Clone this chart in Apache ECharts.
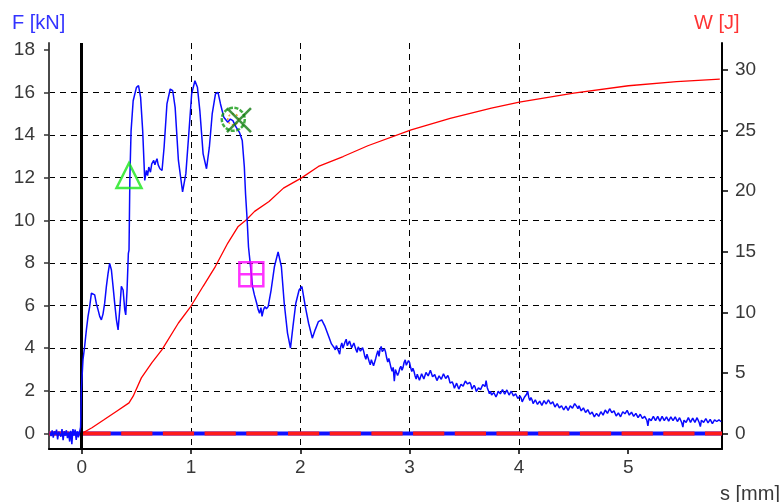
<!DOCTYPE html>
<html><head><meta charset="utf-8">
<script src="https://cdn.jsdelivr.net/npm/echarts@6/dist/echarts.min.js"></script>
<style>html,body{margin:0;padding:0;background:#fff}#c{width:780px;height:502px}</style>
</head><body><div id="c"></div>
<script>
// tick labels
const xTicks=[0,1,2,3,4,5];
const fTicks=[0,2,4,6,8,10,12,14,16,18];
const wTicks=[0,5,10,15,20,25,30];
// axis ranges
const xRange=[-0.299,5.858];
const fRange=[-0.73,18.32];
const wRange=[-1.28,32.23];
// force F [kN] vs s [mm]
const forcePre=[[-0.29,0.05],[-0.28,-0.12],[-0.27,0.14],[-0.26,-0.2],[-0.25,0.1],[-0.24,-0.05],[-0.23,0.18],[-0.22,-0.28],[-0.21,0.08],[-0.2,0.0],[-0.19,-0.15],[-0.18,0.2],[-0.17,-0.32],[-0.16,0.1],[-0.15,-0.1],[-0.14,0.15],[-0.13,-0.22],[-0.12,0.05],[-0.11,-0.38],[-0.10,0.12],[-0.09,-0.5],[-0.08,0.2],[-0.07,-0.1],[-0.06,0.18],[-0.05,-0.3],[-0.04,0.1],[-0.03,-0.18],[-0.02,0.05],[-0.01,0.3]];
const forceRise=[[-0.003,2.06],[0.012,3.46],[0.027,4.08],[0.043,4.86],[0.058,5.49],[0.073,5.95],[0.089,6.58],[0.104,6.65],[0.119,6.5],[0.134,6.1],[0.15,5.8],[0.165,5.49],[0.18,5.33],[0.195,5.6],[0.21,6.1],[0.226,6.9],[0.241,7.5],[0.256,7.98],[0.272,7.67],[0.287,6.9],[0.302,6.1],[0.318,5.33],[0.333,4.86],[0.348,5.8],[0.363,6.9],[0.379,6.73],[0.394,5.8],[0.403,5.56],[0.415,6.73],[0.427,8.45],[0.433,8.6]];
const forceMain=[[0.441,12.03],[0.452,14.21],[0.471,15.61],[0.501,16.24],[0.52,16.32],[0.539,15.77],[0.558,14.21],[0.577,11.87],[0.592,12.34],[0.603,12.1],[0.614,12.5],[0.629,12.26],[0.641,12.65],[0.659,12.81],[0.67,12.6],[0.678,12.75],[0.689,12.89],[0.7,12.6],[0.716,12.42],[0.735,12.34],[0.754,13.43],[0.78,15.46],[0.81,16.16],[0.833,16.08],[0.855,15.3],[0.885,12.81],[0.923,11.33],[0.953,12.19],[0.98,14.06],[1.006,15.93],[1.036,16.55],[1.059,16.24],[1.081,15.15],[1.111,13.12],[1.142,12.42],[1.168,13.43],[1.194,14.99],[1.224,15.93],[1.247,16.0],[1.27,15.46],[1.3,14.84],[1.337,14.6],[1.36,14.75],[1.383,14.68],[1.413,14.37],[1.443,14.13],[1.469,13.74],[1.488,12.5],[1.499,11.25],[1.514,10.0],[1.526,8.76],[1.545,7.82],[1.563,6.89],[1.58,6.5],[1.601,6.11],[1.615,5.8],[1.627,5.64],[1.64,5.9],[1.65,5.49],[1.663,5.8],[1.676,5.95],[1.69,5.85],[1.706,5.95],[1.733,6.73],[1.763,7.82],[1.797,8.52],[1.827,7.82],[1.853,6.11],[1.883,4.71],[1.91,4.0],[1.933,5.02],[1.959,6.11],[1.989,6.73],[2.015,6.89],[2.046,5.95],[2.076,5.17],[2.11,4.47],[2.136,4.86],[2.166,5.25],[2.196,5.33],[2.226,5.02],[2.26,4.55],[2.285,4.2]];
const forceTail=[[2.30,4.22],[2.31,4.02],[2.32,3.92],[2.33,4.12],[2.34,4.10],[2.35,3.86],[2.36,3.72],[2.37,4.08],[2.38,4.25],[2.39,4.0],[2.40,4.05],[2.41,4.3],[2.42,4.42],[2.43,4.12],[2.44,4.08],[2.45,4.34],[2.46,4.30],[2.47,4.02],[2.48,3.95],[2.49,4.24],[2.50,4.20],[2.51,3.92],[2.52,3.80],[2.53,4.06],[2.54,4.12],[2.55,3.86],[2.56,3.90],[2.57,4.02],[2.58,3.85],[2.59,3.62],[2.60,3.48],[2.61,3.72],[2.62,3.65],[2.63,3.38],[2.64,3.22],[2.65,3.46],[2.66,3.42],[2.67,3.18],[2.68,3.25],[2.69,3.52],[2.70,3.72],[2.71,3.88],[2.72,3.62],[2.73,3.95],[2.74,4.08],[2.75,3.84],[2.76,3.78],[2.77,3.98],[2.78,3.82],[2.79,3.55],[2.80,3.35],[2.81,3.52],[2.82,3.30],[2.83,3.08],[2.84,2.92],[2.85,3.1],[2.86,2.45],[2.87,3.0],[2.88,2.95],[2.89,2.72],[2.90,2.85],[2.91,3.05],[2.92,3.15],[2.93,2.96],[2.94,3.10],[2.95,3.34],[2.96,3.45],[2.97,3.2],[2.98,3.25],[2.99,3.42],[3.00,3.32],[3.01,3.08],[3.02,2.90],[3.03,3.06],[3.04,2.92],[3.05,2.7],[3.06,2.55],[3.07,2.78],[3.08,2.70],[3.09,2.5],[3.10,2.58],[3.11,2.8],[3.12,2.78],[3.13,2.56],[3.14,2.65],[3.15,2.86],[3.16,2.92],[3.17,2.7],[3.18,2.78],[3.19,2.96],[3.20,2.88],[3.21,2.66],[3.22,2.58],[3.23,2.76],[3.24,2.70],[3.25,2.48],[3.26,2.52],[3.27,2.7],[3.28,2.74],[3.29,2.54],[3.30,2.60],[3.31,2.8],[3.32,2.78],[3.33,2.58],[3.34,2.64],[3.35,2.72],[3.36,2.58],[3.37,2.36],[3.38,2.28],[3.39,2.42],[3.40,2.30],[3.41,2.12],[3.42,2.18],[3.43,2.36],[3.44,2.32],[3.45,2.08],[3.46,2.12],[3.47,2.3],[3.48,2.38],[3.49,2.22],[3.50,2.30],[3.51,2.46],[3.52,2.50],[3.53,2.32],[3.54,2.26],[3.55,2.4],[3.56,2.30],[3.57,2.08],[3.58,2.12],[3.59,2.26],[3.60,2.16],[3.61,1.96],[3.62,1.98],[3.63,2.14],[3.64,2.22],[3.65,2.06],[3.66,2.18],[3.67,2.3],[3.68,2.36],[3.69,2.2],[3.70,2.48],[3.71,2.16],[3.72,2.02],[3.73,1.86],[3.74,1.98],[3.75,1.8],[3.76,1.74],[3.77,1.92],[3.78,1.88],[3.79,1.72],[3.80,1.82],[3.81,1.98],[3.82,2.04],[3.83,1.86],[3.84,1.88],[3.85,2.06],[3.86,2.02],[3.87,1.84],[3.88,1.90],[3.89,2.04],[3.90,1.99],[3.91,1.8],[3.92,1.84],[3.93,1.98],[3.94,1.94],[3.95,1.76],[3.96,1.74],[3.97,1.86],[3.98,1.81],[3.99,1.64],[4.00,1.62],[4.01,1.76],[4.02,1.66],[4.03,1.48],[4.04,1.50],[4.05,1.7],[4.06,1.62],[4.07,1.84],[4.08,1.98],[4.09,1.7],[4.10,1.55],[4.11,1.68],[4.12,1.58],[4.13,1.4],[4.14,1.42],[4.15,1.58],[4.16,1.54],[4.17,1.36],[4.18,1.38],[4.19,1.52],[4.20,1.47],[4.21,1.32],[4.22,1.36],[4.23,1.54],[4.24,1.52],[4.25,1.38],[4.26,1.42],[4.27,1.58],[4.28,1.54],[4.29,1.38],[4.30,1.36],[4.31,1.48],[4.32,1.42],[4.33,1.24],[4.34,1.27],[4.35,1.4],[4.36,1.36],[4.37,1.2],[4.38,1.18],[4.39,1.3],[4.40,1.28],[4.41,1.1],[4.42,1.14],[4.43,1.28],[4.44,1.24],[4.45,1.08],[4.46,1.12],[4.47,1.3],[4.48,1.34],[4.49,1.18],[4.50,1.22],[4.51,1.4],[4.52,1.45],[4.53,1.26],[4.54,1.16],[4.55,1.3],[4.56,1.24],[4.57,1.06],[4.58,1.08],[4.59,1.2],[4.60,1.16],[4.61,0.98],[4.62,1.02],[4.63,1.12],[4.64,1.06],[4.65,0.9],[4.66,0.88],[4.67,1.0],[4.68,0.96],[4.69,0.78],[4.70,0.80],[4.71,0.94],[4.72,0.96],[4.73,0.8],[4.74,0.86],[4.75,1.02],[4.76,1.01],[4.77,0.86],[4.78,0.92],[4.79,1.1],[4.80,1.08],[4.81,0.94],[4.82,0.98],[4.83,1.16],[4.84,1.20],[4.85,0.98],[4.86,0.92],[4.87,1.06],[4.88,1.01],[4.89,0.82],[4.90,0.84],[4.91,0.96],[4.92,0.93],[4.93,0.78],[4.94,0.83],[4.95,1.02],[4.96,1.08],[4.97,0.92],[4.98,0.94],[4.99,1.08],[5.00,1.03],[5.01,0.86],[5.02,0.88],[5.03,1.0],[5.04,0.96],[5.05,0.8],[5.06,0.80],[5.07,0.94],[5.08,0.91],[5.09,0.74],[5.10,0.76],[5.11,0.9],[5.12,0.86],[5.13,0.7],[5.14,0.64],[5.15,0.8],[5.16,0.82],[5.17,0.62],[5.18,0.36],[5.19,0.7],[5.20,0.78],[5.21,0.6],[5.22,0.62],[5.23,0.8],[5.24,0.78],[5.25,0.6],[5.26,0.64],[5.27,0.8],[5.28,0.77],[5.29,0.58],[5.30,0.62],[5.31,0.8],[5.32,0.78],[5.33,0.6],[5.34,0.63],[5.35,0.78],[5.36,0.76],[5.37,0.58],[5.38,0.62],[5.39,0.78],[5.40,0.77],[5.41,0.6],[5.42,0.64],[5.43,0.78],[5.44,0.75],[5.45,0.56],[5.46,0.58],[5.47,0.74],[5.48,0.72],[5.49,0.5],[5.50,0.30],[5.51,0.62],[5.52,0.70],[5.53,0.52],[5.54,0.55],[5.55,0.74],[5.56,0.72],[5.57,0.52],[5.58,0.54],[5.59,0.72],[5.60,0.70],[5.61,0.52],[5.62,0.56],[5.63,0.74],[5.64,0.71],[5.65,0.5],[5.66,0.32],[5.67,0.62],[5.68,0.70],[5.69,0.52],[5.70,0.54],[5.71,0.7],[5.72,0.68],[5.73,0.5],[5.74,0.52],[5.75,0.66],[5.76,0.62],[5.77,0.46],[5.78,0.48],[5.79,0.64],[5.80,0.70],[5.81,0.56],[5.82,0.52],[5.83,0.64],[5.84,0.60],[5.85,0.55]];
// energy W [J] vs s [mm]
const energy=[[0,0],[0.094,0.47],[0.207,1.15],[0.32,1.84],[0.433,2.53],[0.471,3.08],[0.546,4.59],[0.641,5.83],[0.735,6.92],[0.885,9.12],[0.999,10.5],[1.111,12.15],[1.224,13.8],[1.337,15.72],[1.432,17.09],[1.507,17.64],[1.582,18.33],[1.714,19.15],[1.846,20.25],[2.008,21.08],[2.166,22.04],[2.392,22.86],[2.618,23.75],[3.014,25.06],[3.371,26.0],[3.748,26.85],[4.004,27.35],[4.501,28.1],[5.002,28.7],[5.443,29.05],[5.838,29.25]];
// zero reference line
const zeroLine=[[xRange[0],0],[xRange[1],0]];
// event markers
const markTriangle=[[0.433,12.1]];
const markCircle=[[1.387,14.74]];
const markCross=[[1.439,14.7]];
const markSquare=[[1.552,7.47]];

const FONT="'Liberation Sans', Arial, sans-serif";
const labelStyle={color:'#383838',fontSize:19,fontFamily:FONT};
const dash={color:'#000',type:[6,5],width:1};

const chart=echarts.init(document.getElementById('c'),null,{renderer:'canvas'});
chart.setOption({
  animation:false,
  backgroundColor:'#fff',
  title:[
    {text:'F [kN]',left:12,top:13,padding:0,textStyle:{color:'#3333ff',fontSize:20,fontWeight:'normal',fontFamily:FONT}},
    {text:'W [J]',left:694,top:13,padding:0,textStyle:{color:'#ff3333',fontSize:20,fontWeight:'normal',fontFamily:FONT}},
    {text:'s [mm]',left:720,top:484,padding:0,textStyle:{color:'#383838',fontSize:20,fontWeight:'normal',fontFamily:FONT}}
  ],
  grid:{left:49,right:58,top:43,bottom:53,containLabel:false,outerBoundsMode:'none'},
  xAxis:{type:'value',min:xRange[0],max:xRange[1],minInterval:1,maxInterval:1,
    axisLine:{onZero:false,lineStyle:{color:'#000',width:2}},
    axisTick:{customValues:xTicks,length:5,lineStyle:{color:'#000',width:1.5}},
    axisLabel:Object.assign({customValues:xTicks,margin:9},labelStyle),
    splitLine:{show:true,showMinLine:false,showMaxLine:false,lineStyle:dash}},
  yAxis:[
    {type:'value',position:'left',min:fRange[0],max:fRange[1],minInterval:2,maxInterval:2,
     axisLine:{show:true,onZero:false,lineStyle:{color:'#4a4a4a',width:2}},
     axisTick:{show:true,customValues:fTicks,length:5,lineStyle:{color:'#333',width:1.5}},
     axisLabel:Object.assign({customValues:fTicks,margin:14},labelStyle),
     splitLine:{show:true,showMinLine:false,showMaxLine:false,lineStyle:dash}},
    {type:'value',position:'right',min:wRange[0],max:wRange[1],minInterval:5,maxInterval:5,
     axisLine:{show:true,onZero:false,lineStyle:{color:'#000',width:2}},
     axisTick:{show:true,customValues:wTicks,length:6,lineStyle:{color:'#000',width:1.5}},
     axisLabel:Object.assign({customValues:wTicks,margin:13},labelStyle),
     splitLine:{show:false}}
  ],
  series:[
    {type:'line',data:zeroLine,yAxisIndex:0,symbol:'none',silent:true,z:2,
     lineStyle:{color:'#1010ff',width:4},
     markLine:{silent:true,symbol:['none','none'],label:{show:false},animation:false,
       lineStyle:{color:'#000',width:3,type:'solid'},data:[{xAxis:0}]}},
    {type:'line',data:zeroLine,yAxisIndex:0,symbol:'none',silent:true,z:3,
     lineStyle:{color:'#ff1a1a',width:4,type:[31.2,10.5],dashOffset:11.2}},
    {type:'line',data:energy,yAxisIndex:1,symbol:'none',silent:true,z:4,
     lineStyle:{color:'#ff0000',width:1.3}},
    {type:'line',data:forcePre.concat(forceRise,forceMain,forceTail),yAxisIndex:0,symbol:'none',silent:true,z:5,
     lineStyle:{color:'#0a0aff',width:1.5}},
    {type:'scatter',data:markTriangle,yAxisIndex:0,symbol:'triangle',symbolSize:[25,25],z:6,silent:true,
     itemStyle:{color:'rgba(0,0,0,0)',borderColor:'#19e619',borderWidth:2.5}},
    {type:'scatter',data:markCircle,yAxisIndex:0,symbol:'circle',symbolSize:23,z:6,silent:true,
     itemStyle:{color:'rgba(0,0,0,0)',borderColor:'#129a12',borderWidth:2.5,borderType:[4,1.5]}},
    {type:'scatter',data:markCircle,yAxisIndex:0,symbol:'circle',symbolSize:11,z:6,silent:true,
     itemStyle:{color:'rgba(0,0,0,0)',borderColor:'#e08a00',borderWidth:1.5,borderType:[2,2]}},
    {type:'scatter',data:markCross,yAxisIndex:0,symbol:'path://M0,0L24,24M24,0L0,24',symbolSize:[24,24],z:6,silent:true,
     itemStyle:{color:'rgba(0,0,0,0)',borderColor:'#127a12',borderWidth:2.5}},
    {type:'scatter',data:markSquare,yAxisIndex:0,symbol:'path://M0,0H20V20H0ZM10,0V20M0,10H20',symbolSize:[24,24],z:6,silent:true,
     itemStyle:{color:'rgba(0,0,0,0)',borderColor:'#ff00ff',borderWidth:2.5}}
  ]
});
</script></body></html>
